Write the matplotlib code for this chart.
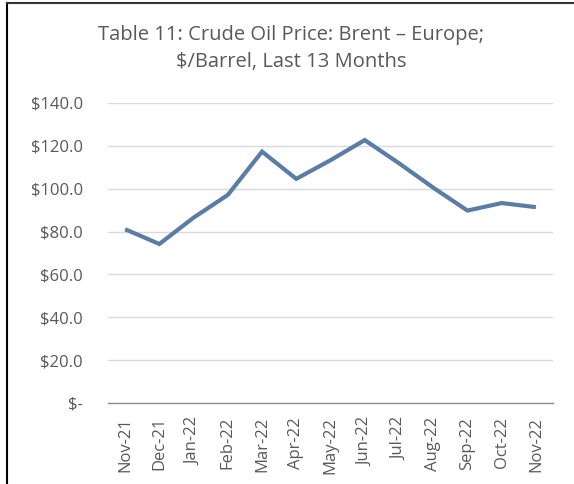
import matplotlib
matplotlib.use("Agg")
import matplotlib.pyplot as plt
from matplotlib.lines import Line2D

## Data
months = ["Nov-21", "Dec-21", "Jan-22", "Feb-22", "Mar-22", "Apr-22", "May-22",
          "Jun-22", "Jul-22", "Aug-22", "Sep-22", "Oct-22", "Nov-22"]
brent = [81.1, 74.2, 86.5, 97.1, 117.3, 104.6, 113.3,
         122.7, 111.9, 100.5, 89.8, 93.3, 91.4]
y_ticks = [0, 20, 40, 60, 80, 100, 120, 140]
y_labels = ["$-"] + [f"${v:.1f}" for v in y_ticks[1:]]

plt.rcParams['font.family'] = ['Open Sans', 'DejaVu Sans']
txt = "#595959"

fig = plt.figure(figsize=(5.74, 4.84), dpi=100)
ax = fig.add_axes([108/574, 1 - 403/484, (553 - 108)/574, 300/484])

x = range(len(months))
ax.plot(x, brent, color="#5A7DA6", lw=3.0, solid_joinstyle="miter", solid_capstyle="butt")

ax.set_xlim(-0.5, len(months) - 0.5)
ax.set_ylim(0, 140)
ax.set_yticks(y_ticks)
ax.set_yticklabels(y_labels, fontsize=12, color=txt)
ax.set_xticks(list(x))
ax.set_xticklabels(months, rotation=90, fontsize=12, color=txt)
ax.tick_params(axis="y", length=0, pad=18)
ax.tick_params(axis="x", length=0, pad=10)

ax.grid(axis="y", color="#d9d9d9", lw=1.0)
ax.set_axisbelow(True)
for s in ["top", "right", "left"]:
    ax.spines[s].set_visible(False)
ax.spines["bottom"].set_color("#8c8c8c")
ax.spines["bottom"].set_linewidth(1.0)

fig.text(0.507, 1 - 35/484, "Table 11: Crude Oil Price: Brent \u2013 Europe;",
         ha="center", va="center", fontsize=14.5, color=txt)
fig.text(0.507, 1 - 62/484, "$/Barrel, Last 13 Months",
         ha="center", va="center", fontsize=14.5, color=txt)

# frame edges visible in the screenshot
fig.add_artist(Line2D([7/574, 7/574], [0, 1 - 2.5/484], color="black", lw=1.5))
fig.add_artist(Line2D([7/574, 1], [1 - 2.5/484, 1 - 2.5/484], color="#333333", lw=1.5))

fig.savefig("out.png", dpi=100)
